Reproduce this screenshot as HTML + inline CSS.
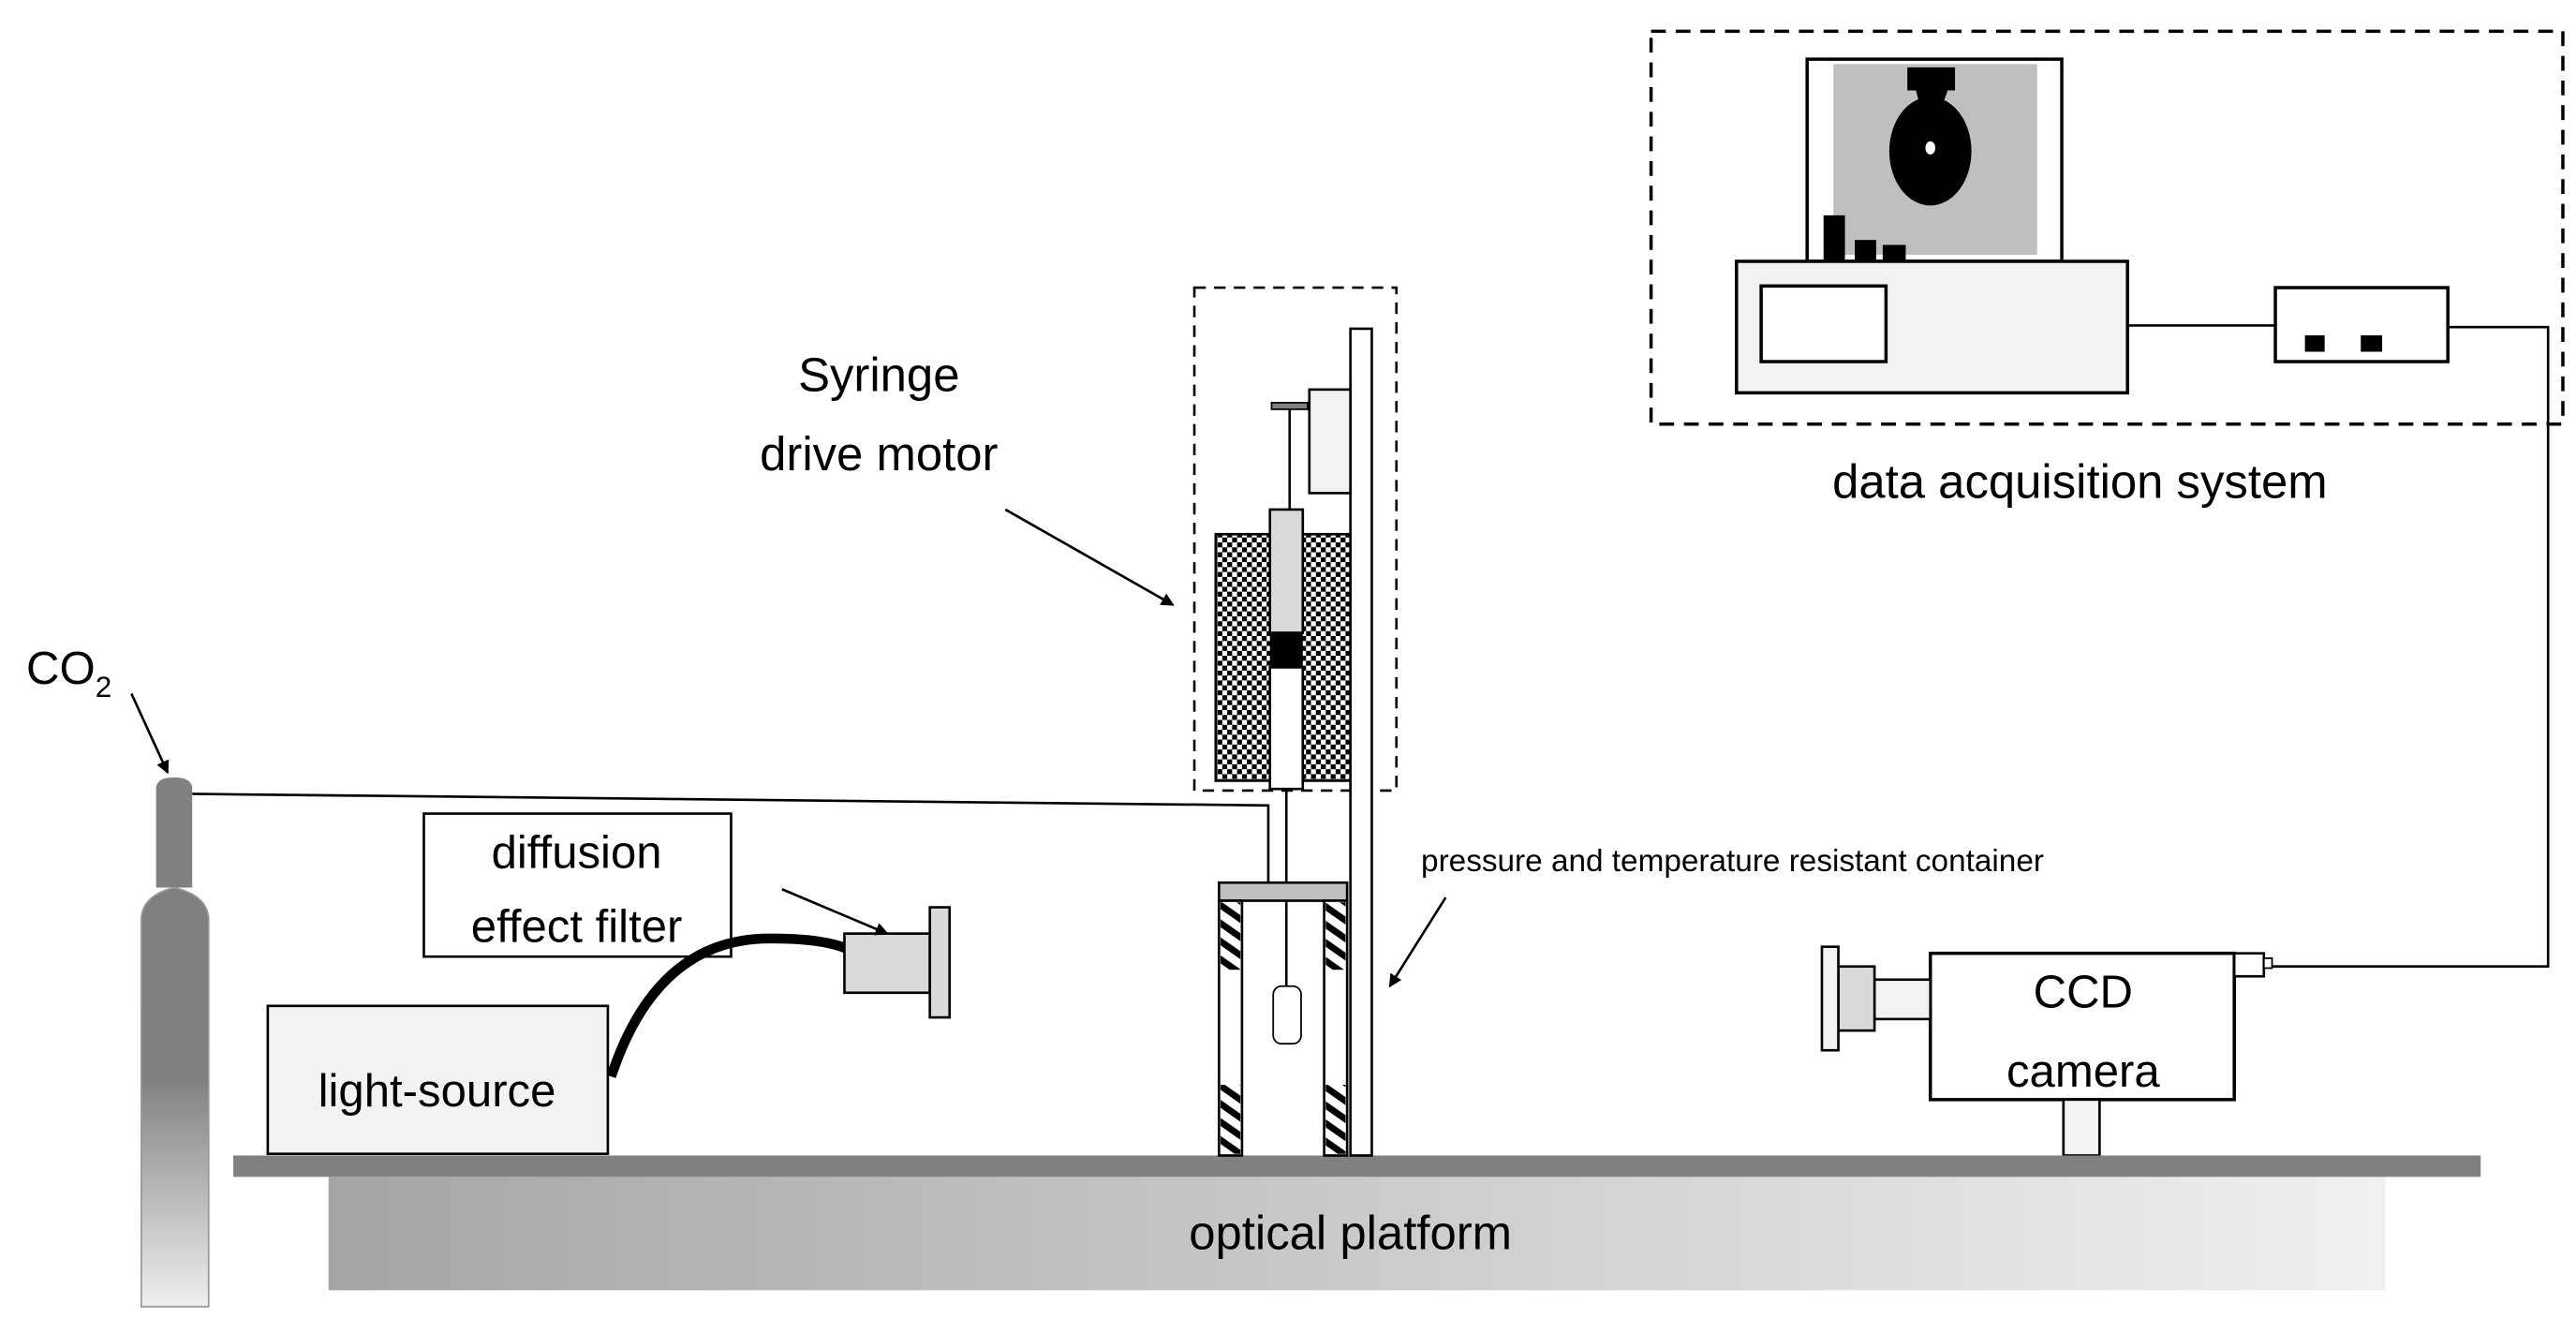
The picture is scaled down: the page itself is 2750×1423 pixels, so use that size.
<!DOCTYPE html>
<html><head><meta charset="utf-8"><style>
html,body{margin:0;padding:0;background:#fff;}
svg{display:block;}
text{font-family:"Liberation Sans",sans-serif;fill:#000;}
</style></head><body>
<svg width="2750" height="1423" viewBox="0 0 1568 811" preserveAspectRatio="none" xmlns="http://www.w3.org/2000/svg">
<defs>
<linearGradient id="cyl" x1="0" y1="0" x2="0" y2="1">
<stop offset="0" stop-color="#7f7f7f"/><stop offset="0.45" stop-color="#808080"/><stop offset="1" stop-color="#efefef"/>
</linearGradient>
<linearGradient id="plat" x1="0" y1="0" x2="1" y2="0">
<stop offset="0" stop-color="#a5a5a5"/><stop offset="1" stop-color="#f0f0f0"/>
</linearGradient>
<pattern id="chk" width="6" height="6" patternUnits="userSpaceOnUse">
<rect width="6" height="6" fill="#000"/><rect x="0" y="0" width="3" height="3" fill="#fff"/><rect x="3" y="3" width="3" height="3" fill="#fff"/>
</pattern>
<pattern id="hatch" width="9" height="9" patternUnits="userSpaceOnUse" patternTransform="rotate(-55)">
<rect width="9" height="9" fill="#fff"/><rect x="0" y="0" width="4" height="9" fill="#000"/>
</pattern>
<marker id="ar" markerWidth="8" markerHeight="8" refX="7" refY="4" orient="auto" markerUnits="userSpaceOnUse">
<path d="M0,0 L8,4 L0,8 z" fill="#000"/>
</marker>
</defs>

<!-- data acquisition -->
<rect x="1005" y="19" width="555" height="239" fill="none" stroke="#000" stroke-width="2" stroke-dasharray="9,6"/>
<rect x="1100" y="36" width="155" height="123" fill="#fff" stroke="#000" stroke-width="2"/>
<rect x="1116" y="39" width="124" height="116" fill="#bfbfbf"/>
<rect x="1161" y="41" width="29" height="14" fill="#000"/>
<path d="M1166,54 L1186,54 L1183,62 L1168,62 z" fill="#000"/>
<ellipse cx="1175" cy="92" rx="25" ry="33" fill="#000"/>
<ellipse cx="1175" cy="90" rx="3" ry="4" fill="#fff"/>
<rect x="1110" y="131" width="13" height="28" fill="#000"/>
<rect x="1129" y="146" width="13" height="13" fill="#000"/>
<rect x="1146" y="149" width="14" height="10" fill="#000"/>
<rect x="1057" y="159" width="238" height="80" fill="#f2f2f2" stroke="#000" stroke-width="2"/>
<rect x="1072" y="174" width="76" height="46" fill="#fff" stroke="#000" stroke-width="2"/>
<line x1="1295" y1="198" x2="1385" y2="198" stroke="#000" stroke-width="1.5"/>
<rect x="1385" y="175" width="105" height="45" fill="#fff" stroke="#000" stroke-width="2"/>
<rect x="1403" y="204" width="12" height="10" fill="#000"/>
<rect x="1437" y="204" width="13" height="10" fill="#000"/>
<polyline points="1490,199 1551,199 1551,588 1378,588" fill="none" stroke="#000" stroke-width="1.5"/>
<text x="1266" y="303" font-size="29" text-anchor="middle">data acquisition system</text>

<!-- CCD camera -->
<rect x="1175" y="580" width="185" height="89" fill="#fff" stroke="#000" stroke-width="2"/>
<rect x="1360" y="580" width="18" height="14" fill="#fff" stroke="#000" stroke-width="1.5"/>
<rect x="1378" y="583" width="5" height="6" fill="#fff" stroke="#000" stroke-width="1"/>
<rect x="1141" y="596" width="34" height="24" fill="#f2f2f2" stroke="#000" stroke-width="1.5"/>
<rect x="1119" y="588" width="22" height="39" fill="#d9d9d9" stroke="#000" stroke-width="1.5"/>
<rect x="1109" y="576" width="10" height="63" fill="#f2f2f2" stroke="#000" stroke-width="1.5"/>
<rect x="1256" y="669" width="22" height="34" fill="#f2f2f2" stroke="#000" stroke-width="1.5"/>
<text x="1268" y="613" font-size="28" text-anchor="middle">CCD</text>
<text x="1268" y="661" font-size="28" text-anchor="middle">camera</text>

<!-- platform -->
<rect x="200" y="716" width="1252" height="69" fill="url(#plat)"/>
<rect x="142" y="703" width="1368" height="13" fill="#808080"/>
<text x="822" y="760" font-size="29" text-anchor="middle">optical platform</text>

<!-- CO2 -->
<text x="16" y="416" font-size="28">CO<tspan font-size="18" dy="8">2</tspan></text>
<line x1="80" y1="422" x2="102" y2="470" stroke="#000" stroke-width="1.5" marker-end="url(#ar)"/>
<path d="M95,540 L95,480 Q95,473 106,473 Q117,473 117,480 L117,540 z" fill="#808080"/>
<path d="M86,795 L86,560 Q86,545 106,540 Q127,545 127,560 L127,795 z" fill="url(#cyl)" stroke="#999" stroke-width="1"/>
<polyline points="117,483 772,490 772,537" fill="none" stroke="#000" stroke-width="1.5"/>

<!-- light source & filter -->
<rect x="163" y="612" width="207" height="90" fill="#f2f2f2" stroke="#000" stroke-width="1.5"/>
<text x="266" y="673" font-size="28" text-anchor="middle">light-source</text>
<rect x="258" y="495" width="187" height="87" fill="#fff" stroke="#000" stroke-width="1.5"/>
<text x="351" y="528" font-size="28" text-anchor="middle">diffusion</text>
<text x="351" y="573" font-size="28" text-anchor="middle">effect filter</text>
<path d="M372,655 Q400,570 470,571 Q500,571 515,577" fill="none" stroke="#000" stroke-width="6"/>
<rect x="514" y="568" width="52" height="36" fill="#d9d9d9" stroke="#000" stroke-width="1.5"/>
<rect x="566" y="552" width="12" height="67" fill="#d9d9d9" stroke="#000" stroke-width="1.5"/>
<line x1="476" y1="541" x2="540" y2="568" stroke="#000" stroke-width="1.5" marker-end="url(#ar)"/>

<!-- syringe assembly -->
<text x="535" y="238" font-size="29" text-anchor="middle">Syringe</text>
<text x="535" y="286" font-size="29" text-anchor="middle">drive motor</text>
<line x1="612" y1="310" x2="714" y2="368" stroke="#000" stroke-width="1.5" marker-end="url(#ar)"/>
<rect x="727" y="175" width="123" height="306" fill="none" stroke="#000" stroke-width="1.5" stroke-dasharray="7,5"/>
<rect x="740" y="325" width="88" height="150" fill="url(#chk)" stroke="#000" stroke-width="1.5"/>
<rect x="822" y="200" width="13" height="503" fill="#fff" stroke="#000" stroke-width="1.5"/>
<rect x="797" y="237" width="25" height="63" fill="#f2f2f2" stroke="#000" stroke-width="1.5"/>
<rect x="774" y="245" width="22" height="4" fill="#808080" stroke="#000" stroke-width="1"/>
<line x1="785" y1="249" x2="785" y2="310" stroke="#000" stroke-width="1.5"/>
<rect x="773" y="310" width="20" height="75" fill="#d9d9d9" stroke="#000" stroke-width="1.5"/>
<rect x="773" y="385" width="20" height="21" fill="#000"/>
<rect x="773" y="406" width="20" height="74" fill="#fff" stroke="#000" stroke-width="1.5"/>
<line x1="783" y1="480" x2="783" y2="600" stroke="#000" stroke-width="1.5"/>
<rect x="775" y="600" width="17" height="35" rx="5" fill="#fff" stroke="#000" stroke-width="1"/>
<rect x="742" y="537" width="78" height="11" fill="#bfbfbf" stroke="#000" stroke-width="1.5"/>
<rect x="742" y="548" width="14" height="155" fill="#fff" stroke="#000" stroke-width="1.5"/>
<rect x="806" y="548" width="14" height="155" fill="#fff" stroke="#000" stroke-width="1.5"/>
<rect x="743" y="549" width="12" height="41" fill="url(#hatch)"/>
<rect x="807" y="549" width="12" height="41" fill="url(#hatch)"/>
<rect x="743" y="660" width="12" height="42" fill="url(#hatch)"/>
<rect x="807" y="660" width="12" height="42" fill="url(#hatch)"/>
<text x="865" y="530" font-size="19">pressure and temperature resistant container</text>
<line x1="880" y1="546" x2="846" y2="600" stroke="#000" stroke-width="1.5" marker-end="url(#ar)"/>
</svg>
</body></html>
